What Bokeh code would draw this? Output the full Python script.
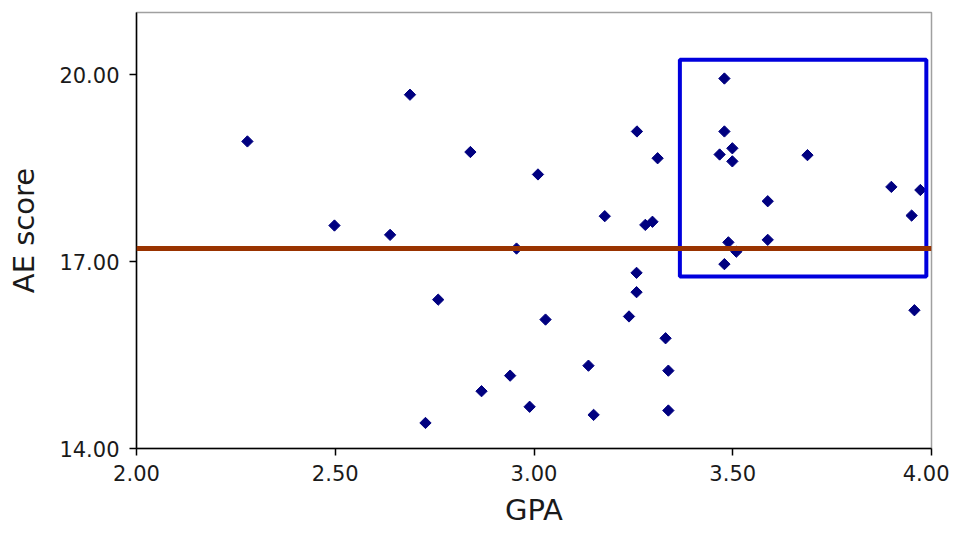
import numpy as np
from bokeh.plotting import figure
from bokeh.models import Range1d, FixedTicker, NumeralTickFormatter, Span
from bokeh.embed import file_html
from bokeh.resources import INLINE

gpa = [2.279, 2.498, 2.638, 2.688, 2.759, 2.727, 2.840, 2.868, 2.940, 2.956,
       2.989, 3.010, 3.029, 3.137, 3.150, 3.178, 3.239, 3.259, 3.258, 3.258,
       3.280, 3.298, 3.311, 3.331, 3.338, 3.338, 3.479, 3.479, 3.467, 3.499,
       3.499, 3.688, 3.899, 3.972, 3.950, 3.588, 3.588, 3.489, 3.509, 3.479,
       3.957]
ae = [18.93, 17.58, 17.43, 19.68, 16.39, 14.41, 18.76, 14.92, 15.17, 17.21,
      14.67, 18.40, 16.07, 15.33, 14.54, 17.73, 16.12, 19.09, 16.82, 16.51,
      17.59, 17.64, 18.66, 15.77, 15.25, 14.61, 19.94, 19.09, 18.72, 18.82,
      18.61, 18.71, 18.20, 18.15, 17.74, 17.97, 17.35, 17.31, 17.16, 16.96,
      16.22]
mean_ae = 17.21
box_gpa = [3.367, 3.987]
box_ae = [16.76, 20.24]
x_ticks = [2.0, 2.5, 3.0, 3.5, 4.0]
y_ticks = [14.0, 17.0, 20.0]
x_title = "GPA"
y_title = "AE score"

p = figure(width=949, height=533, output_backend="svg", toolbar_location=None,
           x_range=Range1d(2, 4), y_range=Range1d(14, 21),
           min_border_left=136, min_border_right=18, min_border_top=12,
           min_border_bottom=85)
p.background_fill_color = "white"
p.border_fill_color = "white"
p.outline_line_color = "#a0a0a0"
p.outline_line_width = 1.5
p.xgrid.visible = False
p.ygrid.visible = False

p.scatter(gpa, ae, marker="square", size=8, angle=np.pi / 4,
          fill_color="#000080", line_color="#000080")

p.add_layout(Span(location=mean_ae, dimension="width", line_color="#993300",
                  line_width=5))

p.quad(left=[box_gpa[0]], right=[box_gpa[1]], bottom=[box_ae[0]], top=[box_ae[1]],
       fill_color=None, line_color="#0000dd", line_width=4)

for ax in (p.xaxis[0], p.yaxis[0]):
    ax.axis_line_color = "black"
    ax.axis_line_width = 1.5
    ax.major_tick_line_color = "black"
    ax.major_tick_line_width = 1.5
    ax.major_tick_out = 7
    ax.major_tick_in = 0
    ax.minor_tick_out = 0
    ax.minor_tick_in = 0
    ax.major_label_text_font = "DejaVu Sans"
    ax.major_label_text_font_size = "21px"
    ax.major_label_text_color = "#1a1a1a"
    ax.axis_label_text_font = "DejaVu Sans"
    ax.axis_label_text_font_size = "29px"
    ax.axis_label_text_font_style = "normal"
    ax.axis_label_text_color = "#1a1a1a"
    ax.formatter = NumeralTickFormatter(format="0.00")

p.xaxis[0].ticker = FixedTicker(ticks=x_ticks)
p.yaxis[0].ticker = FixedTicker(ticks=y_ticks)
p.xaxis[0].axis_label = x_title
p.yaxis[0].axis_label = y_title
p.xaxis[0].major_label_standoff = 9
p.yaxis[0].major_label_standoff = 10
p.xaxis[0].axis_label_standoff = 9
p.yaxis[0].axis_label_standoff = 15

open("out.html", "w").write(file_html(p, INLINE))
